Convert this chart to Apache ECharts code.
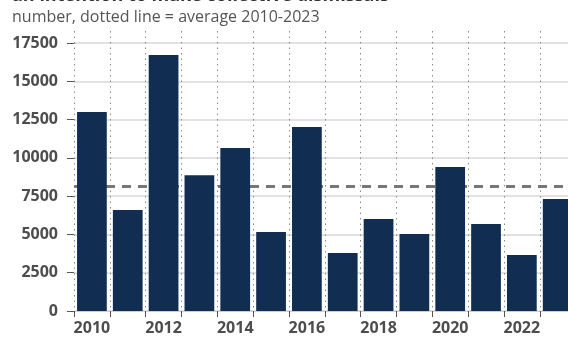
<!DOCTYPE html>
<html><head><meta charset="utf-8">
<script src="https://cdn.jsdelivr.net/npm/echarts@6/dist/echarts.min.js"></script>
<style>html,body{margin:0;padding:0;background:#fff}#c{width:568px;height:338px}</style>
</head><body><div id="c"></div>
<script>
const years = ['2010','2011','2012','2013','2014','2015','2016','2017','2018','2019','2020','2021','2022','2023'];
const dismissals = [13000, 6600, 16720, 8860, 10650, 5160, 12020, 3790, 6010, 5030, 9400, 5680, 3660, 7320];
const yTicks = [0, 2500, 5000, 7500, 10000, 12500, 15000, 17500];
const titleText = 'an intention to make collective dismissals';
const subtitleText = 'number, dotted line = average 2010-2023';

const avg = dismissals.reduce((a, b) => a + b, 0) / dismissals.length;
const FONT = '"Open Sans", "Noto Sans", sans-serif';
const chart = echarts.init(document.getElementById('c'), null, {renderer: 'canvas'});
chart.setOption({
  animation: false,
  graphic: [
    {type: 'text', left: 12, top: -13, style: {text: titleText, font: 'bold 18px ' + FONT, fill: '#333'}},
    {type: 'text', left: 12, top: 9, style: {text: subtitleText, font: '16px ' + FONT, fill: '#555'}}
  ],
  grid: [
    {left: 74, width: 501.6, top: 43, bottom: 27, outerBoundsMode: 'none'},
    {left: 74, width: 501.6, top: 31, bottom: 27, outerBoundsMode: 'none'}
  ],
  xAxis: [
    {type: 'category', gridIndex: 0, data: years, boundaryGap: true,
     axisLine: {show: true, lineStyle: {color: '#cfcfcf', width: 1}},
     axisTick: {show: true, interval: 0, length: 6, lineStyle: {color: '#555'}},
     axisLabel: {interval: 1, margin: 9, fontFamily: FONT, fontWeight: 'bold', fontSize: 16, color: '#4d4d4d'},
     splitLine: {show: false}},
    {type: 'category', gridIndex: 1, data: years, boundaryGap: true,
     axisLine: {show: false}, axisTick: {show: false}, axisLabel: {show: false},
     splitLine: {show: true, interval: 0, lineStyle: {color: '#8a8a8a', type: [1.5, 4], width: 1}}}
  ],
  yAxis: [
    {type: 'value', gridIndex: 0, min: yTicks[0], max: yTicks[yTicks.length - 1], interval: 2500,
     axisLine: {show: false},
     axisTick: {show: true, length: 7, lineStyle: {color: '#555'}},
     axisLabel: {margin: 16, fontFamily: FONT, fontWeight: 'bold', fontSize: 16, color: '#4d4d4d',
       formatter: v => String(v)},
     splitLine: {show: true, lineStyle: {color: '#d9d9d9', width: 1.5}}},
    {type: 'value', gridIndex: 1, show: false, splitLine: {show: false}}
  ],
  series: [
    {type: 'bar', xAxisIndex: 0, yAxisIndex: 0, data: dismissals, z: 3,
     barCategoryGap: '17%',
     itemStyle: {color: '#112d52'}},
    {type: 'line', xAxisIndex: 0, yAxisIndex: 0, data: [], z: 1,
     markLine: {silent: true, symbol: 'none', z: 1, label: {show: false},
       lineStyle: {color: '#777', width: 3, type: [9, 7]},
       data: [{yAxis: avg}]}}
  ]
});
</script></body></html>
